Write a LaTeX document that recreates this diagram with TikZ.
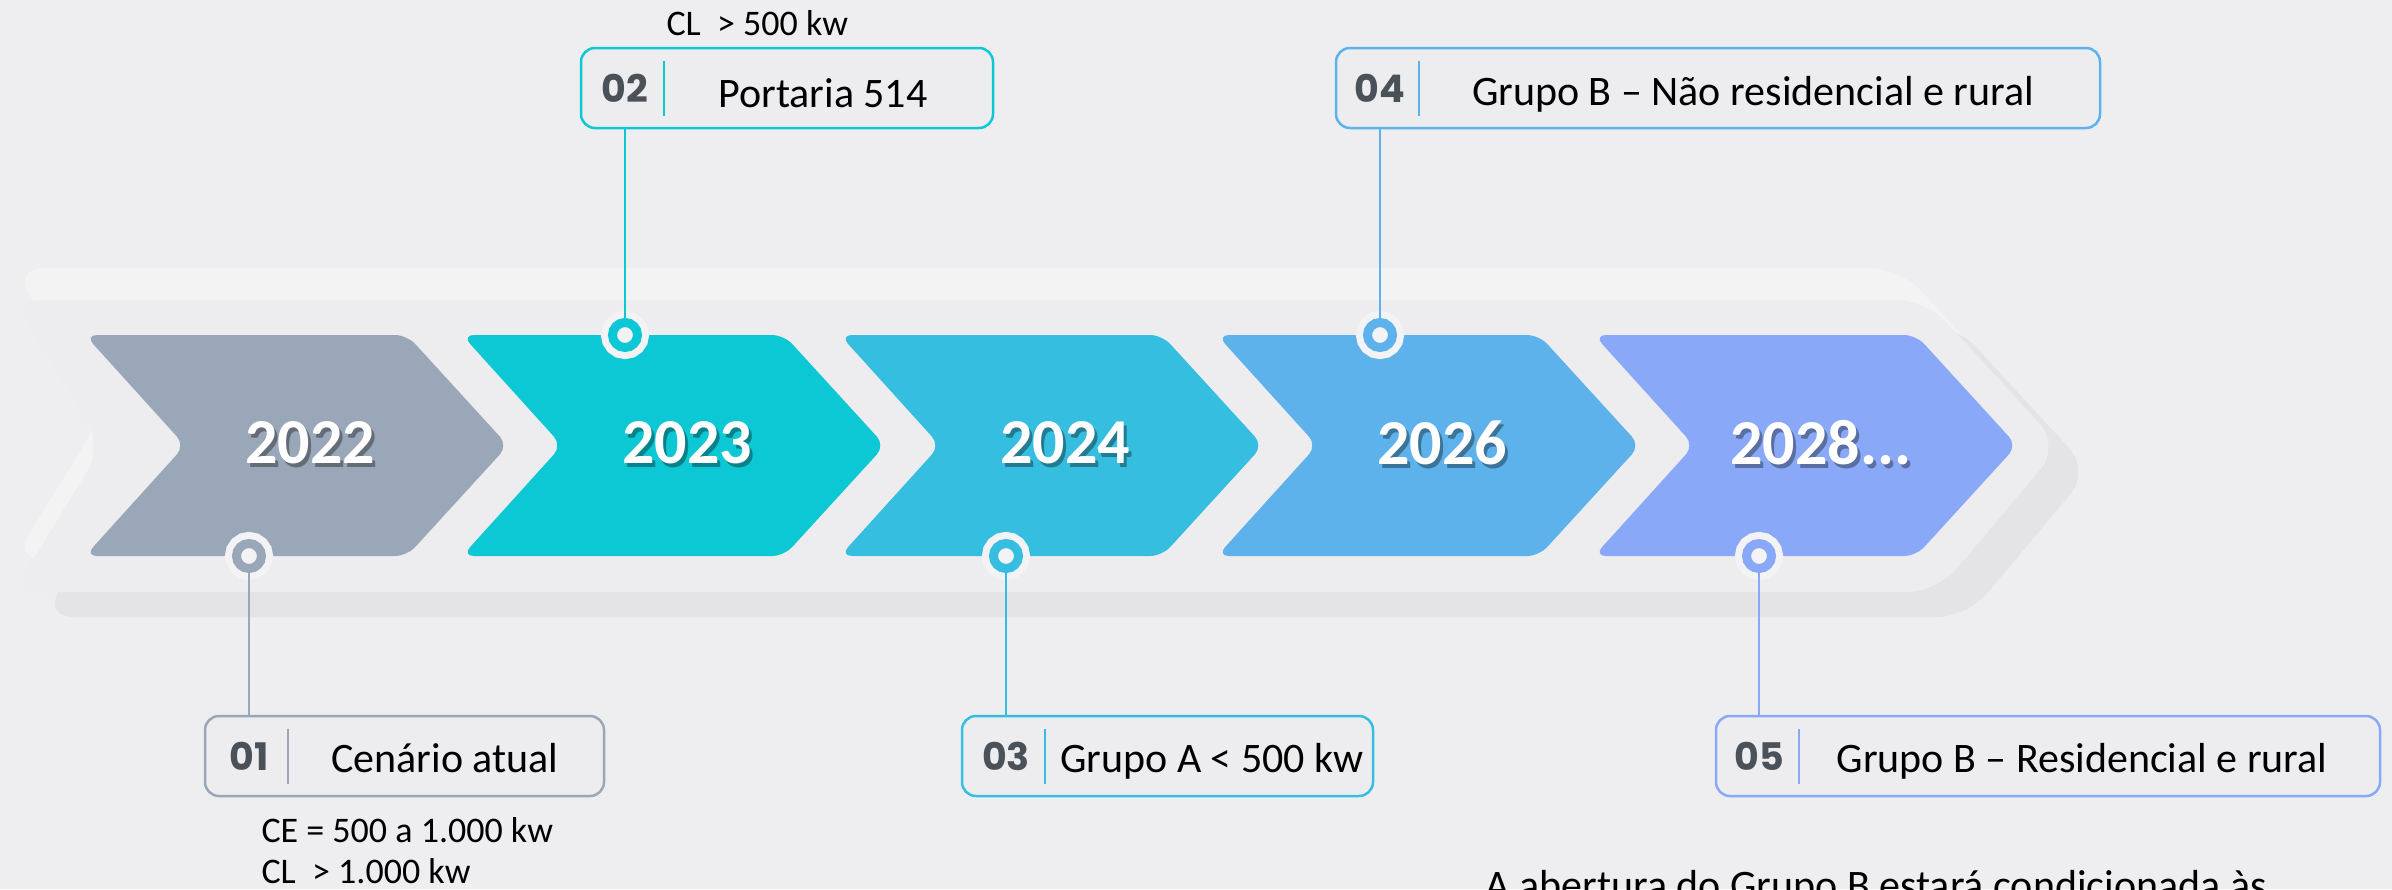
\documentclass[tikz,border=0pt]{standalone}
\usepackage{fontspec}
\setmainfont{Carlito}
\newfontfamily\numfont{Poppins}
\usetikzlibrary{positioning}

\definecolor{bgcol}{HTML}{EEEEF0}
\definecolor{bandcol}{HTML}{EDEDEF}
\definecolor{shadecol}{HTML}{E4E4E6}
\definecolor{lightcol}{HTML}{F3F3F4}
\definecolor{ringcol}{HTML}{F3F3F5}
\definecolor{numcol}{HTML}{4B5159}
\definecolor{cA}{HTML}{9AA7B8}
\definecolor{cB}{HTML}{0BC8D4}
\definecolor{cC}{HTML}{36BEE0}
\definecolor{cD}{HTML}{5DB2EC}
\definecolor{cE}{HTML}{89A9F8}

\begin{document}
\begin{tikzpicture}[x=1pt,y=-1pt,
  chev/.style={fill=#1,rounded corners=12pt},
  yearlbl/.style={text=white,font=\bfseries\fontsize{64}{64}\selectfont},
  yearshade/.style={text=black,opacity=.35,font=\bfseries\fontsize{64}{64}\selectfont},
  infobox/.style={draw=#1,line width=2.5pt,rounded corners=14pt,minimum height=80pt,inner sep=0pt,fill=bandcol},
  dot/.style={circle,inner sep=0pt,minimum size=25pt,fill=ringcol,draw=#1,line width=9pt,
    preaction={draw=ringcol,fill=ringcol,line width=23pt}},
  link/.style={draw=#1,line width=2.5pt},
  sepline/.style={draw=#1,line width=2pt},
  numlbl/.style={text=numcol,anchor=base,font=\numfont\bfseries\fontsize{38}{38}\selectfont},
  boxlbl/.style={anchor=base,font=\fontsize{42}{42}\selectfont},
  notelbl/.style={anchor=base west,font=\fontsize{36}{44}\selectfont}]
\useasboundingbox (0,0) rectangle (2392,889);
\fill[bgcol] (0,0) rectangle (2392,889);
% band behind the arrows
\fill[lightcol,rounded corners=30pt] (13,268) -- (1900,268) -- (2034,414) -- (1911,560) -- (13,560) -- (103,414) -- cycle;
\fill[shadecol,rounded corners=30pt] (43,325) -- (1956,325) -- (2090,471) -- (1967,617) -- (43,617) -- (133,471) -- cycle;
\fill[bandcol,rounded corners=30pt] (13,300) -- (1926,300) -- (2060,446) -- (1937,592) -- (13,592) -- (103,446) -- cycle;

% arrows
\fill[chev=cA] (85,335) -- ++(322,0) -- ++(101,110.5) -- ++(-101,110.5) -- ++(-322,0) -- ++(100,-110.5) -- cycle;
\fill[chev=cB] (462,335) -- ++(322,0) -- ++(101,110.5) -- ++(-101,110.5) -- ++(-322,0) -- ++(100,-110.5) -- cycle;
\fill[chev=cC] (840,335) -- ++(322,0) -- ++(101,110.5) -- ++(-101,110.5) -- ++(-322,0) -- ++(100,-110.5) -- cycle;
\fill[chev=cD] (1217,335) -- ++(322,0) -- ++(101,110.5) -- ++(-101,110.5) -- ++(-322,0) -- ++(100,-110.5) -- cycle;
\fill[chev=cE] (1594,335) -- ++(322,0) -- ++(101,110.5) -- ++(-101,110.5) -- ++(-322,0) -- ++(100,-110.5) -- cycle;

\node[yearshade] at (313,447) {2022};
\node[yearlbl] (y1) at (310,443) {2022};
\node[yearshade] at (690,447) {2023};
\node[yearlbl] (y2) at (687,443) {2023};
\node[yearshade] at (1068,447) {2024};
\node[yearlbl] (y3) at (1065,443) {2024};
\node[yearshade] at (1445,447) {2026};
\node[yearlbl] (y4) at (1442,443) {2026};
\node[yearshade] at (1824,447) {2028...};
\node[yearlbl] (y5) at (1821,443) {2028...};

% boxes
\node[infobox=cA,minimum width=399pt] (b1) at (404.5,756) {};
\node[infobox=cB,minimum width=412pt] (b2) at (787,88) {};
\node[infobox=cC,minimum width=411pt] (b3) at (1167.5,756) {};
\node[infobox=cD,minimum width=764pt] (b4) at (1718,88) {};
\node[infobox=cE,minimum width=664pt] (b5) at (2048,756) {};

\node[numlbl] (n1) at (249,770) {01};
\node[numlbl] (n2) at (625,102) {02};
\node[numlbl] (n3) at (1006,770) {03};
\node[numlbl] (n4) at (1380,102) {04};
\node[numlbl] (n5) at (1759,770) {05};

\draw[sepline=cA] ([xshift=84pt]b1.north west) ++(0,14) -- ++(0,55);
\draw[sepline=cB] ([xshift=84pt]b2.north west) ++(0,14) -- ++(0,55);
\draw[sepline=cC] ([xshift=84pt]b3.north west) ++(0,14) -- ++(0,55);
\draw[sepline=cD] ([xshift=84pt]b4.north west) ++(0,14) -- ++(0,55);
\draw[sepline=cE] ([xshift=84pt]b5.north west) ++(0,14) -- ++(0,55);

\node[boxlbl] (l1) at (445,772) {Cenário atual};
\node[boxlbl] (l2) at (823,107) {Portaria 514};
\node[boxlbl] (l3) at (1212,772) {Grupo A < 500 kw};
\node[boxlbl] (l4) at (1753,105) {Grupo B – Não residencial e rural};
\node[boxlbl] (l5) at (2082,772) {Grupo B – Residencial e rural};

% markers and links
\node[dot=cA] (m1) at (249,556) {};
\node[dot=cB] (m2) at (625,335) {};
\node[dot=cC] (m3) at (1006,556) {};
\node[dot=cD] (m4) at (1380,335) {};
\node[dot=cE] (m5) at (1759,556) {};
\draw[link=cA] (m1) -- (m1 |- b1.north);
\draw[link=cB] (m2) -- (m2 |- b2.south);
\draw[link=cC] (m3) -- (m3 |- b3.north);
\draw[link=cD] (m4) -- (m4 |- b4.south);
\draw[link=cE] (m5) -- (m5 |- b5.north);

% notes
\node[notelbl] (cl2) at (663,35) {CL~~> 500 kw};
\node[notelbl] (ce1) at (258,842) {CE = 500 a 1.000 kw};
\node[notelbl] (cl1) at (258,883) {CL~~> 1.000 kw};
\node[notelbl,font=\fontsize{42}{42}\selectfont] (note) at (1482,899) {A abertura do Grupo B estará condicionada às};
\end{tikzpicture}
\end{document}
